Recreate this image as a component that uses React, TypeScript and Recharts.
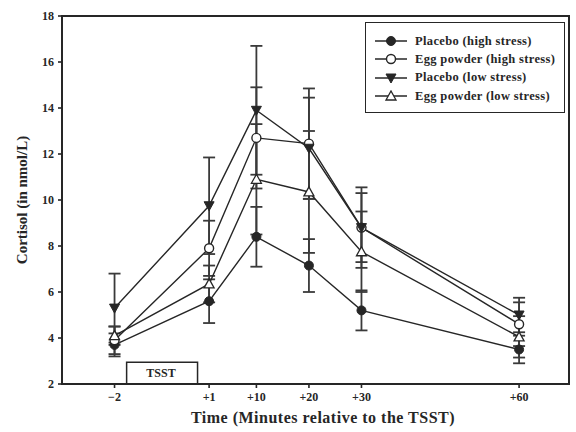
import {
  ComposedChart,
  Line,
  XAxis,
  YAxis,
  ErrorBar,
  ReferenceArea,
} from "recharts";

// x slots: -2 sits left of an axis break, the rest are minutes after the TSST
const positions = [-17, 1, 10, 20, 30, 60];
const timeLabels = ["\u22122", "+1", "+10", "+20", "+30", "+60"];
const xDomain: [number, number] = [-27, 69.5];
const yDomain: [number, number] = [2, 18];
const yTicks = [2, 4, 6, 8, 10, 12, 14, 16, 18];

const placeboHigh = [3.7, 5.6, 8.4, 7.15, 5.2, 3.5];
const placeboHighErr = [0.5, 0.95, 1.3, 1.15, 0.87, 0.6];
const eggHigh = [3.9, 7.9, 12.7, 12.45, 8.8, 4.6];
const eggHighErr = [0.6, 1.2, 2.2, 2.4, 1.75, 0.95];
const placeboLow = [5.3, 9.75, 13.9, 12.25, 8.8, 5.0];
const placeboLowErr = [1.5, 2.1, 2.8, 2.2, 1.5, 0.75];
const eggLow = [4.1, 6.35, 10.9, 10.35, 7.75, 4.05];
const eggLowErr = [0.4, 0.8, 2.4, 2.65, 1.75, 0.9];

const tsstStart = -14.7;
const tsstEnd = -1.2;
const tsstTop = 2.95;

const data = positions.map((pos, i) => ({
  pos,
  ph: placeboHigh[i], phErr: placeboHighErr[i],
  eh: eggHigh[i], ehErr: eggHighErr[i],
  pl: placeboLow[i], plErr: placeboLowErr[i],
  el: eggLow[i], elErr: eggLowErr[i],
}));

type Kind = "filledCircle" | "openCircle" | "triDown" | "triUp";

const series: { key: string; err: string; name: string; kind: Kind }[] = [
  { key: "ph", err: "phErr", name: "Placebo (high stress)", kind: "filledCircle" },
  { key: "eh", err: "ehErr", name: "Egg powder (high stress)", kind: "openCircle" },
  { key: "pl", err: "plErr", name: "Placebo (low stress)", kind: "triDown" },
  { key: "el", err: "elErr", name: "Egg powder (low stress)", kind: "triUp" },
];

const INK = "#262626";
const FONT = "'Liberation Serif', 'DejaVu Serif', serif";
const TICK = 4;
const GAP = 4;

const Marker = ({ cx, cy, kind }: { cx?: number; cy?: number; kind: Kind }) => {
  if (cx == null || cy == null) return null;
  if (kind === "filledCircle") return <circle cx={cx} cy={cy} r={4.5} fill={INK} stroke={INK} />;
  if (kind === "openCircle") return <circle cx={cx} cy={cy} r={4.5} fill="#fff" stroke={INK} strokeWidth={1.4} />;
  if (kind === "triDown")
    return <polygon points={`${cx - 5},${cy - 4} ${cx + 5},${cy - 4} ${cx},${cy + 5}`} fill={INK} stroke={INK} />;
  return (
    <polygon points={`${cx - 5},${cy + 4} ${cx + 5},${cy + 4} ${cx},${cy - 5}`} fill="#fff" stroke={INK} strokeWidth={1.3} />
  );
};

const LeftTick = ({ x, y, payload }: any) => (
  <g>
    <rect x={x + GAP} y={y - 0.8} width={TICK} height={1.6} fill={INK} />
    <text x={x} y={y} dy="0.35em" textAnchor="end" fontSize={12} fontWeight="bold" fontFamily={FONT} fill={INK}>
      {payload.value}
    </text>
  </g>
);

const BottomTick = ({ x, y, payload }: any) => (
  <g>
    <rect x={x - 0.8} y={y - GAP - TICK} width={1.6} height={TICK} fill={INK} />
    <text x={x} y={y} dy="0.75em" textAnchor="middle" fontSize={12} fontWeight="bold" fontFamily={FONT} fill={INK}>
      {timeLabels[positions.indexOf(payload.value)] ?? ""}
    </text>
  </g>
);

const text = { position: "absolute" as const, fontFamily: FONT, fontWeight: "bold" as const, color: INK, whiteSpace: "nowrap" as const, lineHeight: 1 };

const LegendBox = () => (
  <div
    style={{
      position: "absolute",
      top: 22,
      left: 365,
      border: `1.5px solid ${INK}`,
      background: "#fff",
      padding: "9px 4px 7px 8px",
      fontFamily: FONT,
      fontWeight: "bold",
      fontSize: 12.5,
      letterSpacing: 0.35,
      color: INK,
      width: 186,
      lineHeight: 1,
    }}
  >
    {series.map((s) => (
      <div key={s.key} style={{ display: "flex", alignItems: "center", height: 18.3 }}>
        <svg width={34} height={12} style={{ marginRight: 7 }}>
          <line x1={1} y1={6} x2={33} y2={6} stroke={INK} strokeWidth={1.5} />
          <Marker cx={17} cy={6} kind={s.kind} />
        </svg>
        <span>{s.name}</span>
      </div>
    ))}
  </div>
);

export default function App() {
  return (
    <div style={{ position: "absolute", left: 0, top: 0, width: 576, height: 432, background: "#fff" }}>
      {/* plot frame behind the svg */}
      <div style={{ position: "absolute", left: 61, top: 15, width: 509, height: 370, boxSizing: "border-box", border: `2px solid ${INK}` }} />
      <div style={{ position: "absolute", left: 0, top: 0 }}>
        <ComposedChart width={576} height={432} data={data} margin={{ top: 16, right: 7, bottom: 0, left: 0 }}>
          <XAxis
            dataKey="pos"
            type="number"
            domain={xDomain}
            ticks={positions}
            allowDataOverflow
            height={48}
            stroke={INK}
            strokeWidth={2}
            tickSize={TICK}
            tickMargin={GAP}
            tickLine={false}
            tick={<BottomTick />}
          />
          <YAxis
            domain={yDomain}
            ticks={yTicks}
            width={62}
            stroke={INK}
            strokeWidth={2}
            tickSize={TICK}
            tickMargin={GAP}
            tickLine={false}
            tick={<LeftTick />}
          />
          <ReferenceArea
            x1={xDomain[0]}
            x2={xDomain[1]}
            y1={yDomain[0]}
            y2={yDomain[1]}
            fill="none"
            stroke={INK}
            strokeWidth={2}
            ifOverflow="visible"
          />
          <ReferenceArea
            x1={tsstStart}
            x2={tsstEnd}
            y1={yDomain[0]}
            y2={tsstTop}
            fill="#fff"
            fillOpacity={1}
            stroke={INK}
            strokeWidth={1.5}
          />
          {series.map((s) => (
            <Line
              key={s.key}
              dataKey={s.key}
              stroke={INK}
              strokeWidth={1.4}
              isAnimationActive={false}
              dot={(p: any) => <Marker key={`${s.key}-${p.index}`} cx={p.cx} cy={p.cy} kind={s.kind} />}
            >
              <ErrorBar dataKey={s.err} direction="y" width={6} stroke="#3a3a3a" strokeWidth={1.8} />
            </Line>
          ))}
        </ComposedChart>
      </div>
      <div style={{ ...text, left: 161, top: 373, fontSize: 12, transform: "translate(-50%, -50%)" }}>TSST</div>
      <div style={{ ...text, left: 22, top: 200, fontSize: 15, transform: "translate(-50%, -50%) rotate(-90deg)" }}>
        Cortisol (in nmol/L)
      </div>
      <div style={{ ...text, left: 323, top: 410, fontSize: 16, letterSpacing: 0.5, transform: "translateX(-50%)" }}>
        Time (Minutes relative to the TSST)
      </div>
      <LegendBox />
    </div>
  );
}
